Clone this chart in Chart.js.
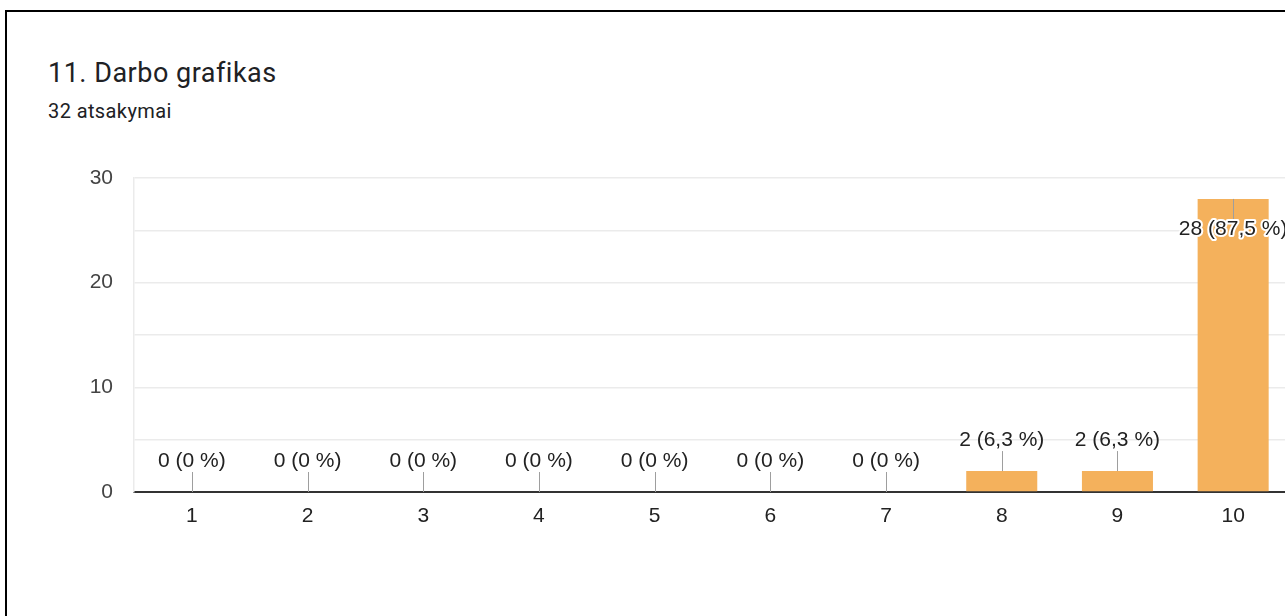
<!DOCTYPE html>
<html>
<head>
<meta charset="utf-8">
<script src="https://cdn.jsdelivr.net/npm/chart.js@4.4.1/dist/chart.umd.min.js"></script>
<style>
  html, body { margin: 0; padding: 0; background: #fff; overflow: hidden; width: 1285px; height: 616px; }
  #frame { position: absolute; left: 5px; top: 10px; width: 1400px; height: 700px; border: 2px solid #000; }
  .title { position: absolute; left: 48px; top: 60px; font: 27px/27px Roboto, sans-serif; letter-spacing: 0.5px; color: #202124; white-space: nowrap; }
  .sub { position: absolute; left: 48px; top: 101px; font: 20px/20px Roboto, sans-serif; letter-spacing: 0.4px; color: #202124; white-space: nowrap; }
  #grafikas { position: absolute; left: 0; top: 0; }
</style>
</head>
<body>
<div id="frame"></div>
<div class="title">11. Darbo grafikas</div>
<div class="sub">32 atsakymai</div>
<canvas id="grafikas" width="1320" height="616"></canvas>
<script>
// Kategorijos ir atsakymų skaičiai
var kategorijos = ['1', '2', '3', '4', '5', '6', '7', '8', '9', '10'];
var atsakymai = [0, 0, 0, 0, 0, 0, 0, 2, 2, 28];
var yZymes = [0, 10, 20, 30];

var spalva = '#F4B15C';
var sriftas = '"Liberation Sans", Arial, sans-serif';

var viso = atsakymai.reduce(function (a, b) { return a + b; }, 0);

function etikete(v) {
    var p = Math.round(v / viso * 1000) / 10;
    return v + ' (' + String(p).replace('.', ',') + ' %)';
}

// Užrašai virš stulpelių su linija
var reiksmiuPluginas = {
    id: 'reiksmes',
    afterDatasetsDraw: function (chart) {
        var ctx = chart.ctx;
        var meta = chart.getDatasetMeta(0);
        var area = chart.chartArea;
        ctx.save();
        ctx.font = '21px ' + sriftas;
        ctx.textAlign = 'center';
        ctx.textBaseline = 'middle';
        meta.data.forEach(function (el, i) {
            var x = Math.round(el.x) + 0.5;
            var y = el.y;
            var txt = etikete(atsakymai[i]);
            ctx.strokeStyle = '#9e9e9e';
            ctx.lineWidth = 1;
            ctx.beginPath();
            if (y - 45 < area.top) {
                ctx.moveTo(x, y);
                ctx.lineTo(x, y + 22);
                ctx.stroke();
                ctx.lineJoin = 'round';
                ctx.strokeStyle = '#fff';
                ctx.lineWidth = 4;
                ctx.strokeText(txt, el.x, y + 30);
                ctx.fillStyle = '#222';
                ctx.fillText(txt, el.x, y + 30);
            } else {
                ctx.moveTo(x, y);
                ctx.lineTo(x, y - 20);
                ctx.stroke();
                ctx.fillStyle = '#222';
                ctx.fillText(txt, el.x, y - 31);
            }
        });
        ctx.restore();
    }
};

var ctx = document.getElementById('grafikas').getContext('2d');

var grafikas = new Chart(ctx, {
    type: 'bar',
    data: {
        labels: kategorijos,
        datasets: [{
            data: atsakymai,
            backgroundColor: spalva,
            borderWidth: 0,
            barPercentage: 0.614,
            categoryPercentage: 1
        }]
    },
    options: {
        responsive: false,
        animation: false,
        devicePixelRatio: 1,
        layout: { padding: { top: 178, right: 29, bottom: 74, left: 0 } },
        plugins: {
            legend: { display: false },
            tooltip: { enabled: false }
        },
        scales: {
            x: {
                grid: { display: false, drawTicks: false },
                border: { color: '#333', width: 2 },
                ticks: { color: '#222', font: { family: sriftas, size: 21 }, padding: 12, maxRotation: 0 },
                afterFit: function (s) { s.height = 50; }
            },
            y: {
                min: 0,
                max: 30,
                ticks: {
                    stepSize: 5,
                    color: '#444',
                    font: { family: sriftas, size: 21 },
                    padding: 21,
                    callback: function (v) { return yZymes.indexOf(v) >= 0 ? v : ''; }
                },
                grid: {
                    drawTicks: false,
                    color: function (c) { return c.tick && c.tick.value === 0 ? 'rgba(0,0,0,0)' : '#ebebeb'; },
                    lineWidth: 1.5
                },
                border: { color: '#ebebeb', width: 1.5 },
                afterFit: function (s) { s.width = 134; }
            }
        }
    },
    plugins: [reiksmiuPluginas]
});
</script>
</body>
</html>
